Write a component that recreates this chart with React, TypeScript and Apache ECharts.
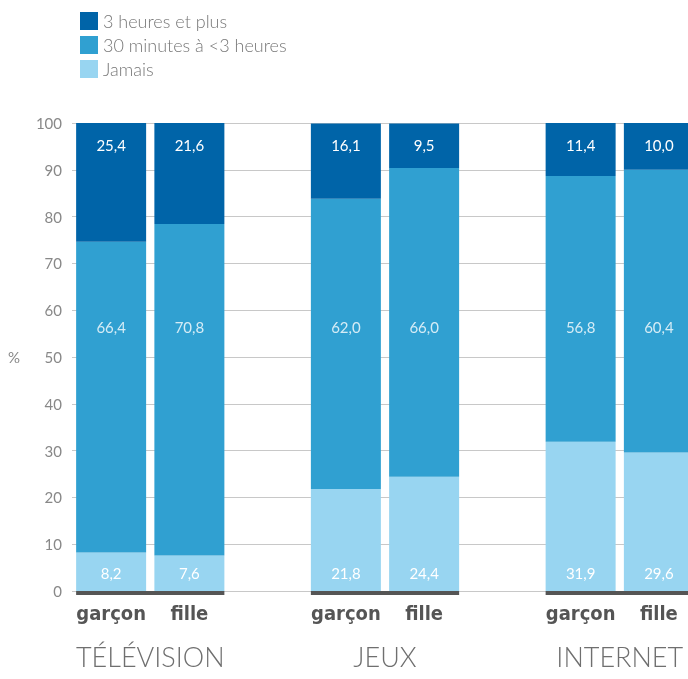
import React, { useEffect, useRef } from "react";
import * as echarts from "echarts";

const categories = ["garçon", "fille", "", "garçon", "fille", "", "garçon", "fille"];
const groupNames = ["TÉLÉVISION", "JEUX", "INTERNET"];
const groupCenters = [0.5, 3.5, 6.5];
const groupSpans = [[0, 1], [3, 4], [6, 7]];
const jamais = [8.2, 7.6, null, 21.8, 24.4, null, 31.9, 29.6];
const trenteMin = [66.4, 70.8, null, 62.0, 66.0, null, 56.8, 60.4];
const troisHeures = [25.4, 21.6, null, 16.1, 9.5, null, 11.4, 10.0];
const seriesNames = ["3 heures et plus", "30 minutes à <3 heures", "Jamais"];
const yTicks = { min: 0, max: 100, interval: 10 };

const COLORS = { dark: "#0064a8", mid: "#30a0d1", light: "#98d5f1" };
const MID_LABEL_Y = 56.4;
const BAR_W = 70;
const FONT = "Lato, 'Open Sans', sans-serif";

const fmt = (v: any) => (v == null ? "" : Number(v).toFixed(1).replace(".", ","));

export default function App() {
  const ref = useRef<HTMLDivElement>(null);
  useEffect(() => {
    if (!ref.current) return;
    const chart = echarts.init(ref.current, null, { renderer: "svg" });
    const labelBase = { show: true, color: "#ffffff", fontSize: 15, fontFamily: FONT, formatter: (p: any) => fmt(p.value) };
    chart.setOption({
      animation: false,
      legend: {
        orient: "vertical",
        left: 75,
        top: 7,
        itemWidth: 18,
        itemHeight: 18,
        itemGap: 6,
        itemTextGap: 12,
        icon: "rect",
        data: seriesNames,
        textStyle: { color: "#777777", fontSize: 18, fontFamily: FONT, fontWeight: 300 },
      },
      grid: { left: 72, right: 0, top: 123, bottom: 88, containLabel: false },
      xAxis: [
        {
          type: "category",
          data: categories,
          axisTick: { show: false },
          axisLine: { show: false },
          axisLabel: {
            color: "#555555",
            fontSize: 20,
            fontWeight: "bold",
            fontFamily: "'DejaVu Sans Condensed', 'Liberation Sans Narrow', sans-serif",
            margin: 12,
            interval: 0,
          },
        },
        {
          type: "value",
          position: "bottom",
          min: -0.5,
          max: 7.5,
          axisLine: { show: false },
          axisTick: { show: false },
          splitLine: { show: false },
          axisLabel: {
            customValues: groupCenters,
            formatter: (v: number) => groupNames[groupCenters.indexOf(v)] ?? "",
            color: "#6f6f6f",
            fontSize: 27,
            fontWeight: 300,
            fontFamily: FONT,
            margin: 52,
          },
        },
      ],
      yAxis: {
        type: "value",
        min: yTicks.min,
        max: yTicks.max,
        interval: yTicks.interval,
        name: "%",
        nameLocation: "middle",
        nameRotate: 0,
        nameGap: 52,
        nameTextStyle: { color: "#888888", fontSize: 15, fontFamily: FONT },
        axisLine: { show: false },
        axisTick: { show: false },
        axisLabel: { color: "#888888", fontSize: 15, fontFamily: FONT, margin: 10 },
        splitLine: { lineStyle: { color: "#c8c8c8", width: 1 } },
      },
      series: [
        {
          name: seriesNames[2],
          type: "bar",
          stack: "s",
          barWidth: BAR_W,
          data: jamais,
          itemStyle: { color: COLORS.light },
          label: { ...labelBase, position: "insideBottom", distance: 11 },
        },
        {
          name: seriesNames[1],
          type: "bar",
          stack: "s",
          barWidth: BAR_W,
          data: trenteMin,
          itemStyle: { color: COLORS.mid },
        },
        {
          name: seriesNames[0],
          type: "bar",
          stack: "s",
          barWidth: BAR_W,
          data: troisHeures,
          itemStyle: { color: COLORS.dark },
          label: { ...labelBase, position: "insideTop", distance: 14 },
        },
        {
          type: "scatter",
          silent: true,
          symbolSize: 1,
          itemStyle: { color: "rgba(0,0,0,0)" },
          data: trenteMin.map((v, i) => (v == null ? null : [i, MID_LABEL_Y, v])),
          label: { ...labelBase, position: "inside", formatter: (p: any) => fmt(p.value[2]) },
          z: 5,
        },
        {
          type: "custom",
          xAxisIndex: 1,
          silent: true,
          clip: false,
          data: groupSpans,
          renderItem: (params: any, api: any) => {
            const a = api.coord([api.value(0), 0]);
            const b = api.coord([api.value(1), 0]);
            return {
              type: "rect",
              shape: { x: a[0] - BAR_W / 2, y: a[1], width: b[0] - a[0] + BAR_W, height: 4 },
              style: { fill: "#555555" },
            };
          },
        },
      ],
    });
    return () => chart.dispose();
  }, []);
  return <div ref={ref} style={{ position: "fixed", left: 0, top: 0, width: 698, height: 679 }} />;
}
